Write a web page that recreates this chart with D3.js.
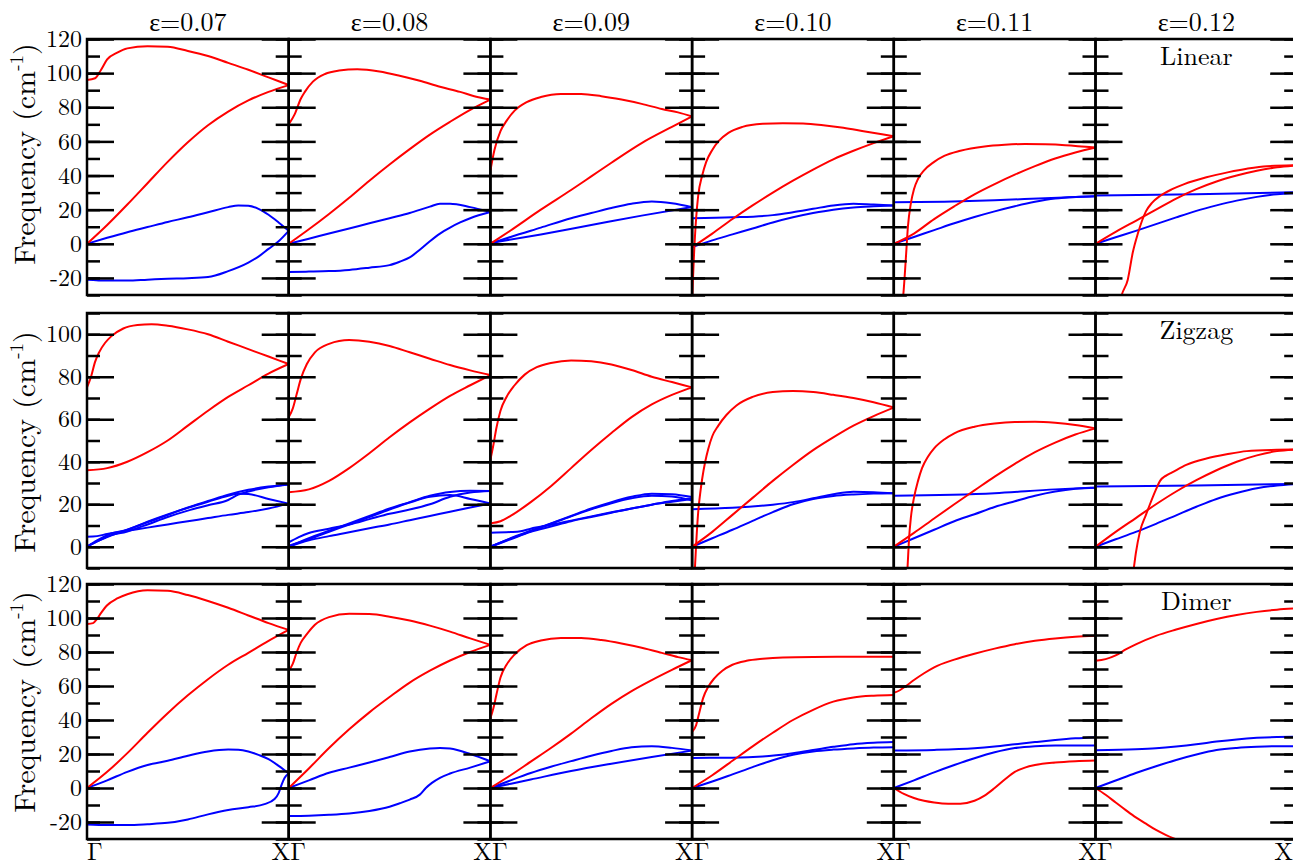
<!DOCTYPE html>
<html>
<head>
<meta charset="utf-8">
<script src="https://cdn.jsdelivr.net/npm/d3@7"></script>
<style>
body { margin: 0; background: #fff; }
</style>
</head>
<body>
<script>
// strain columns and chain rows
var strains = ["ε=0.07", "ε=0.08", "ε=0.09", "ε=0.10", "ε=0.11", "ε=0.12"];
var chains = ["Linear", "Zigzag", "Dimer"];
var yDomains = [[-30, 120], [-10, 110], [-30, 120]];
var qLabels = ["Γ", "XΓ", "XΓ", "XΓ", "XΓ", "XΓ", "X"];

// phonon branches, [q (Γ=0 .. X=1), frequency cm-1], one list per strain
var linearRed = [
  [[[0,96],[0.04,97],[0.07,102],[0.1,108],[0.15,112],[0.2,114.5],[0.3,115.8],[0.4,115.5],[0.5,113],[0.6,110],[0.7,106],[0.8,102],[0.9,97.5],[1,93]],
   [[0,0],[0.1,11],[0.2,23],[0.3,35.5],[0.4,48],[0.5,59.5],[0.6,69.5],[0.7,77.5],[0.8,84],[0.9,89],[1,93]]],
  [[[0,70],[0.03,76],[0.06,85],[0.08,89],[0.12,95],[0.18,99.5],[0.25,101.5],[0.34,102.3],[0.45,101],[0.55,98.5],[0.65,95.5],[0.75,92],[0.85,89],[0.92,86.5],[1,84.5]],
   [[0,0],[0.1,8.5],[0.2,17.5],[0.3,27],[0.4,37],[0.5,46.5],[0.6,55.5],[0.7,64],[0.8,71.5],[0.9,78.5],[1,84.5]]],
  [[[0,43],[0.02,55],[0.05,66],[0.08,72],[0.12,78],[0.18,83],[0.25,86],[0.35,87.8],[0.45,87.8],[0.55,86.5],[0.65,84.5],[0.75,82],[0.85,79],[0.93,77],[1,74.6]],
   [[0,0],[0.1,7.8],[0.25,20],[0.4,31.5],[0.5,39.5],[0.6,47.5],[0.75,59],[0.9,68.5],[1,74.6]]],
  [[[0,-32],[0.01,-5],[0.02,15],[0.03,28],[0.05,40],[0.07,48],[0.1,55],[0.13,60],[0.18,65],[0.25,68.5],[0.35,70.3],[0.45,70.7],[0.55,70.5],[0.65,69.5],[0.75,68],[0.85,66],[1,63]],
   [[0,-2],[0.1,6],[0.2,14.5],[0.3,22.5],[0.4,30],[0.5,37],[0.6,43.5],[0.7,49.5],[0.8,54.5],[0.9,59],[1,63]]],
  [[[0.035,-40],[0.047,-30],[0.06,-8],[0.07,10],[0.085,24],[0.1,32],[0.12,38],[0.15,43],[0.2,48],[0.25,51.5],[0.33,54.5],[0.45,57],[0.55,58],[0.65,58.5],[0.75,58.3],[0.85,57.8],[1,56.4]],
   [[0,0],[0.1,6],[0.2,14.5],[0.3,22],[0.4,29],[0.5,35],[0.6,40.5],[0.7,45.5],[0.8,50],[0.9,53.5],[1,56.4]]],
  [[[0.11,-40],[0.13,-30],[0.16,-21],[0.185,-5],[0.21,6],[0.25,19],[0.28,24],[0.32,28],[0.38,32],[0.44,35],[0.55,39],[0.66,42],[0.75,44],[0.85,45.5],[1,46]],
   [[0,0],[0.1,7],[0.2,13.5],[0.3,20],[0.4,26.5],[0.5,32],[0.6,36.5],[0.7,40],[0.8,42.8],[0.9,44.8],[1,46]]]
];
var linearBlue = [
  [[[0,0],[0.1,3.5],[0.2,6.8],[0.3,9.8],[0.4,12.8],[0.5,15.5],[0.6,18.5],[0.7,21.5],[0.75,22.5],[0.8,22.3],[0.85,20.5],[0.9,17],[0.95,12.5],[1,7.6]],
   [[0,-21],[0.1,-21.5],[0.2,-21.5],[0.3,-21],[0.4,-20.5],[0.5,-20.2],[0.6,-19.5],[0.7,-16],[0.8,-11],[0.85,-7.5],[0.9,-3],[0.95,1.5],[1,7.6]]],
  [[[0,0],[0.1,3],[0.2,6],[0.3,9],[0.4,12],[0.5,15],[0.6,18],[0.7,21.8],[0.75,23.5],[0.8,23.5],[0.9,21.5],[1,18.6]],
   [[0,-16.5],[0.1,-16.3],[0.2,-16],[0.3,-15.3],[0.4,-14],[0.5,-12.5],[0.55,-10.5],[0.6,-8],[0.65,-3.5],[0.7,1.5],[0.75,6],[0.8,9.5],[0.85,12.5],[0.9,15],[1,18.6]]],
  [[[0,0],[0.1,4],[0.25,9.5],[0.4,15],[0.5,18],[0.6,21],[0.7,23.5],[0.8,24.8],[0.9,23.8],[1,21.5]],
   [[0,0.5],[0.25,5.5],[0.5,11],[0.75,16.5],[1,21.5]]],
  [[[0,15],[0.2,15.5],[0.4,16.8],[0.5,18.5],[0.6,20.5],[0.7,22.5],[0.8,23.5],[0.9,23],[1,22.5]],
   [[0,-2],[0.1,2],[0.2,5.5],[0.3,9],[0.4,12.5],[0.5,15.5],[0.6,18],[0.7,20],[0.8,21.3],[0.9,22],[1,22.5]]],
  [[[0,24.3],[0.25,24.7],[0.5,25.5],[0.75,26.7],[1,27.8]],
   [[0,0],[0.1,4],[0.2,8],[0.3,12],[0.4,15.7],[0.5,19],[0.6,22],[0.7,24.6],[0.8,26.5],[0.9,27.4],[1,27.8]]],
  [[[0,28.3],[0.5,29],[1,30.2]],
   [[0,0],[0.1,3.8],[0.2,7.6],[0.3,11.5],[0.4,15.5],[0.5,19.3],[0.6,22.5],[0.7,25.3],[0.8,27.5],[0.9,29],[1,29.8]]]
];

var zigzagRed = [
  [[[0,75],[0.02,80],[0.04,87],[0.06,91.5],[0.09,96],[0.12,99],[0.18,102.7],[0.25,104.3],[0.32,104.7],[0.4,104],[0.5,102.3],[0.6,100],[0.7,96.5],[0.8,93],[0.9,89.5],[1,86]],
   [[0,36],[0.1,37],[0.2,40],[0.3,44.5],[0.4,50],[0.5,57],[0.6,64],[0.7,70.5],[0.8,76],[0.9,81.5],[1,86]]],
  [[[0,61],[0.02,65],[0.04,72],[0.06,79],[0.09,86],[0.13,91.5],[0.2,95.5],[0.3,97.3],[0.4,96.5],[0.5,94.5],[0.6,91.5],[0.7,88.5],[0.8,85.5],[0.9,83],[1,80.8]],
   [[0,25.7],[0.1,27],[0.2,31],[0.3,37],[0.4,44],[0.5,51.5],[0.6,58.5],[0.7,65],[0.8,71],[0.9,76],[1,80.8]]],
  [[[0,41],[0.015,48],[0.03,56],[0.05,64],[0.08,70.5],[0.12,76],[0.17,81],[0.23,84.5],[0.3,86.5],[0.4,87.7],[0.5,87.3],[0.6,85.8],[0.7,83.2],[0.8,80],[0.9,77.5],[1,75]],
   [[0,11],[0.05,12],[0.1,14.5],[0.2,21],[0.3,28.5],[0.4,37],[0.5,45.5],[0.6,53.5],[0.7,61],[0.8,67],[0.9,71.5],[1,75]]],
  [[[0.005,-20],[0.014,-10],[0.02,1],[0.03,16],[0.04,25],[0.05,32],[0.065,40],[0.08,46],[0.1,52],[0.13,57],[0.17,62],[0.22,66.5],[0.3,70.5],[0.4,72.8],[0.5,73.3],[0.6,72.8],[0.7,71.5],[0.8,70],[0.9,68],[1,65.5]],
   [[0,0],[0.1,7],[0.2,15],[0.3,23],[0.4,31],[0.5,38.5],[0.6,45.5],[0.7,51.5],[0.8,57],[0.9,61.5],[1,65.5]]],
  [[[0.06,-20],[0.068,-10],[0.075,3],[0.085,14],[0.1,23],[0.12,31],[0.14,37],[0.17,42.5],[0.2,46.3],[0.25,50.5],[0.3,53.4],[0.4,56.5],[0.5,58],[0.6,58.7],[0.7,58.8],[0.8,58.3],[0.9,57.3],[1,55.7]],
   [[0,0],[0.1,6.5],[0.2,13.3],[0.3,20],[0.4,26.5],[0.5,33],[0.6,39],[0.7,44.5],[0.8,49],[0.9,52.8],[1,55.7]]],
  [[[0.175,-20],[0.19,-10],[0.2,-3],[0.22,7],[0.25,15],[0.27,20],[0.3,27],[0.32,31],[0.35,33.5],[0.38,35],[0.45,38.5],[0.55,41.5],[0.65,43.5],[0.75,45],[0.9,45.6],[1,45.8]],
   [[0,0],[0.1,7],[0.2,13.5],[0.3,20],[0.4,26],[0.5,31.3],[0.6,36],[0.7,40],[0.8,43],[0.9,45],[1,45.8]]]
];
var zigzagBlue = [
  [[[0,0],[0.05,2.5],[0.1,4.5],[0.2,8],[0.3,11.5],[0.4,15],[0.5,18.5],[0.6,21.5],[0.7,24.5],[0.8,26.8],[0.9,28.3],[1,29.3]],
   [[0,0],[0.05,2.5],[0.1,4.8],[0.2,7.2],[0.3,10.5],[0.4,14],[0.5,17],[0.6,19.5],[0.7,22],[0.75,24.5],[0.8,26],[0.9,28],[1,29.3]],
   [[0,0],[0.05,3],[0.1,5.5],[0.2,8],[0.3,11.8],[0.4,15.2],[0.5,18.3],[0.6,21.2],[0.7,24],[0.75,25],[0.8,24.8],[0.9,22.5],[1,20.3]],
   [[0,4.7],[0.05,5],[0.1,6],[0.2,7.5],[0.3,9],[0.4,10.5],[0.5,12],[0.6,13.5],[0.7,15],[0.8,16.3],[0.9,18],[1,20.3]]],
  [[[0,0],[0.1,4],[0.2,7.5],[0.3,11],[0.4,14.5],[0.5,18],[0.6,21],[0.7,24],[0.8,25.8],[0.9,26.3],[1,26.2]],
   [[0,2],[0.05,4.5],[0.1,6.5],[0.2,8.5],[0.3,10.5],[0.4,13],[0.5,15.5],[0.6,17.5],[0.7,20],[0.8,23.5],[0.9,25.5],[1,26.2]],
   [[0,0.5],[0.1,3.5],[0.2,7],[0.3,10.5],[0.4,14],[0.5,17.5],[0.6,20.8],[0.7,23.5],[0.8,24.3],[0.9,22.5],[1,20.4]],
   [[0,0],[0.1,3],[0.2,5],[0.3,6.8],[0.4,8.7],[0.5,10.5],[0.6,12.5],[0.7,14.5],[0.8,16.5],[0.9,18.5],[1,20.4]]],
  [[[0,0],[0.1,4],[0.2,7.5],[0.3,11],[0.4,14.5],[0.5,18],[0.6,21],[0.7,23.5],[0.8,25],[0.9,24.7],[1,23.4]],
   [[0,6.6],[0.1,6.9],[0.15,7.3],[0.2,8.5],[0.3,10.3],[0.4,12.3],[0.5,14.3],[0.6,16.2],[0.7,18],[0.8,19.8],[0.9,21.2],[1,22.5]],
   [[0,0],[0.1,3.5],[0.2,7],[0.3,9.5],[0.4,12],[0.5,14],[0.6,16],[0.7,18],[0.8,19.8],[0.9,21.5],[1,22.8]],
   [[0,0],[0.1,3.8],[0.2,7.3],[0.3,10.8],[0.4,14.3],[0.5,17.6],[0.6,20.5],[0.7,22.8],[0.8,24],[0.9,23.6],[1,21.8]]],
  [[[0,17.7],[0.2,18.3],[0.4,19.8],[0.5,21],[0.6,22.8],[0.7,24.7],[0.8,25.9],[0.9,25.7],[1,25.2]],
   [[0,0],[0.1,4],[0.2,8],[0.3,12.2],[0.4,16.3],[0.5,20],[0.6,22.5],[0.7,23.9],[0.8,24.6],[0.9,25],[1,25.2]]],
  [[[0,24],[0.5,25.2],[0.8,27],[1,27.8]],
   [[0,0],[0.1,4],[0.2,8],[0.3,12],[0.4,15.3],[0.5,18.7],[0.6,21.4],[0.7,24],[0.8,26],[0.9,27.3],[1,27.8]]],
  [[[0,28.3],[0.5,28.8],[1,29.6]],
   [[0,0],[0.1,3.5],[0.2,7],[0.3,10.8],[0.4,14.8],[0.5,18.8],[0.6,22.5],[0.7,25.3],[0.8,27.5],[0.9,28.8],[1,29.5]]]
];

var dimerRed = [
  [[[0,96.5],[0.03,97],[0.05,99.5],[0.07,103],[0.1,107.5],[0.15,111.5],[0.2,114],[0.3,116.3],[0.4,116],[0.5,113.5],[0.6,110],[0.7,106],[0.8,101.5],[0.9,97],[1,93]],
   [[0,0],[0.1,9.5],[0.2,20.5],[0.3,32.5],[0.4,44],[0.5,54.5],[0.6,64],[0.7,72.5],[0.8,79.5],[0.9,86.5],[1,93]]],
  [[[0,69],[0.02,73],[0.04,80],[0.06,85.5],[0.09,90.5],[0.13,96],[0.2,100.5],[0.3,102.5],[0.4,102.3],[0.5,100.8],[0.6,98.5],[0.7,95.5],[0.8,92],[0.9,88],[1,84.2]],
   [[0,0],[0.1,11.5],[0.2,23.5],[0.3,34.5],[0.4,44.5],[0.5,53.5],[0.6,62],[0.7,69],[0.8,75],[0.9,80],[1,84.2]]],
  [[[0,41],[0.015,47],[0.03,55],[0.05,65],[0.08,72.5],[0.12,78.5],[0.18,84],[0.25,86.8],[0.35,88.3],[0.45,88.2],[0.55,87],[0.65,85],[0.75,82.5],[0.85,79.5],[0.93,77],[1,75.2]],
   [[0,0],[0.1,7.5],[0.2,15.5],[0.3,23.5],[0.4,32],[0.5,41],[0.6,49.5],[0.7,57],[0.8,63.5],[0.9,69.5],[1,75.2]]],
  [[[0,33],[0.02,37],[0.035,44],[0.055,53],[0.08,59.5],[0.11,64.5],[0.15,69],[0.2,72.5],[0.27,74.8],[0.35,76],[0.45,76.8],[0.6,77.1],[0.8,77.2],[1,77.2]],
   [[0,0],[0.1,7.5],[0.2,16],[0.3,24.5],[0.4,32.5],[0.5,40],[0.6,46],[0.7,50.8],[0.8,53.3],[0.9,54.3],[1,54.7]]],
  [[[0,56],[0.03,57.5],[0.06,60],[0.1,63.5],[0.15,67.5],[0.2,71],[0.3,75.5],[0.4,79],[0.5,82],[0.6,84.6],[0.7,86.6],[0.8,88],[0.9,89],[1,89.5]],
   [[0,0],[0.05,-3.5],[0.1,-5.9],[0.15,-7.5],[0.2,-8.5],[0.27,-9.2],[0.33,-9.2],[0.4,-7.5],[0.45,-4.5],[0.5,0],[0.55,5],[0.6,9.5],[0.65,12],[0.7,13.5],[0.8,15],[0.9,15.8],[1,16.2]]],
  [[[0,74.8],[0.05,75.8],[0.1,78],[0.15,81.5],[0.2,84.5],[0.3,89.5],[0.4,93.2],[0.5,96.5],[0.6,99.4],[0.7,101.8],[0.8,103.6],[0.9,104.9],[1,105.7]],
   [[0,0],[0.05,-4],[0.1,-8.5],[0.15,-13],[0.2,-17.3],[0.25,-21],[0.3,-24.7],[0.35,-27.7],[0.4,-30.2],[0.45,-32.5]]]
];
var dimerBlue = [
  [[[0,0],[0.1,4.5],[0.2,9.5],[0.3,13.5],[0.4,16],[0.5,19],[0.6,21.5],[0.7,22.6],[0.75,22.5],[0.8,21.5],[0.85,19.5],[0.9,17],[0.95,13],[1,8.5]],
   [[0,-21.5],[0.1,-21.8],[0.2,-21.8],[0.3,-21.3],[0.4,-20.5],[0.5,-18.5],[0.6,-15.5],[0.7,-13],[0.8,-11.3],[0.88,-9.5],[0.93,-6.5],[0.95,-3],[0.965,2],[0.98,6],[1,8.5]]],
  [[[0,0],[0.1,4.5],[0.2,9],[0.3,12],[0.4,15],[0.5,18.2],[0.6,21.5],[0.7,23.3],[0.75,23.6],[0.8,23.2],[0.9,20],[1,15.7]],
   [[0,-16.5],[0.1,-16.3],[0.2,-15.8],[0.3,-15],[0.4,-13.5],[0.5,-11],[0.55,-9],[0.6,-6.8],[0.65,-3.9],[0.68,0],[0.71,3],[0.75,6],[0.8,8.5],[0.9,12],[1,15.7]]],
  [[[0,0],[0.1,4.5],[0.2,8.8],[0.3,12.5],[0.4,15.8],[0.5,19],[0.6,21.8],[0.7,24],[0.8,24.6],[0.9,23.6],[1,22]],
   [[0,0],[0.2,5],[0.4,10],[0.6,14.3],[0.8,18.3],[1,22]]],
  [[[0,17.7],[0.2,17.8],[0.35,18.5],[0.5,20.5],[0.6,22.3],[0.7,24.2],[0.8,25.8],[0.9,26.6],[1,27]],
   [[0,0],[0.1,3.8],[0.2,8],[0.3,12.3],[0.4,16.3],[0.5,19.5],[0.6,21.5],[0.7,22.6],[0.8,23.3],[0.9,23.8],[1,24]]],
  [[[0,22],[0.2,22.4],[0.4,23.4],[0.5,24.4],[0.6,25.7],[0.7,27],[0.8,28.2],[0.9,29.2],[1,29.9]],
   [[0,0],[0.1,4.5],[0.2,9.2],[0.3,13.5],[0.4,17.5],[0.5,21],[0.6,23.5],[0.7,24.6],[0.8,25],[1,25]]],
  [[[0,22.2],[0.2,22.8],[0.3,23.4],[0.4,24.4],[0.5,25.7],[0.6,27.3],[0.7,28.6],[0.8,29.5],[0.9,30],[1,30.1]],
   [[0,0],[0.1,4.4],[0.2,8.8],[0.3,12.8],[0.4,16.5],[0.5,19.7],[0.6,22.3],[0.7,23.6],[0.8,24.3],[0.9,24.6],[1,24.6]]]
];

var branches = [[linearRed, linearBlue], [zigzagRed, zigzagBlue], [dimerRed, dimerBlue]];

var width = 1293, height = 866;
var left = 87, panelW = 201.7;
var rowBox = [[39, 295], [313, 568], [584, 839]];
var yLabelMid = [154, 442, 702];
var font = "'Latin Modern Roman', 'Liberation Serif', serif";

var svg = d3.select("body")
            .append("svg")
            .attr("width", width)
            .attr("height", height);

var defs = svg.append("defs");

rowBox.forEach(function(box, r) {
    var y = d3.scaleLinear().domain(yDomains[r]).range([box[1], box[0]]);
    var minor = d3.range(yDomains[r][0], yDomains[r][1] + 1, 10);
    var major = minor.filter(function(v) { return v % 20 === 0; });

    strains.forEach(function(s, c) {
        var x = d3.scaleLinear().domain([0, 1]).range([left + c * panelW, left + (c + 1) * panelW]);
        var id = "clip" + r + "_" + c;
        defs.append("clipPath").attr("id", id)
            .append("rect")
            .attr("x", x(0)).attr("y", box[0])
            .attr("width", panelW).attr("height", box[1] - box[0]);

        var line = d3.line()
                     .x(function(d) { return x(d[0]); })
                     .y(function(d) { return y(d[1]); })
                     .curve(d3.curveMonotoneX);

        var g = svg.append("g");
        var curves = g.append("g").attr("clip-path", "url(#" + id + ")");
        curves.selectAll("path.blue")
              .data(branches[r][1][c])
              .enter().append("path")
              .attr("class", "blue")
              .attr("d", line)
              .attr("fill", "none")
              .attr("stroke", "#0000ff")
              .attr("stroke-width", 2);
        curves.selectAll("path.red")
              .data(branches[r][0][c])
              .enter().append("path")
              .attr("class", "red")
              .attr("d", line)
              .attr("fill", "none")
              .attr("stroke", "#ff0000")
              .attr("stroke-width", 2);

        // inward ticks on both sides of every panel
        [[minor, 13], [major, 27]].forEach(function(t) {
            g.append("g")
             .attr("transform", "translate(" + x(0) + ",0)")
             .call(d3.axisRight(y).tickValues(t[0]).tickSize(t[1]).tickFormat(""));
            g.append("g")
             .attr("transform", "translate(" + x(1) + ",0)")
             .call(d3.axisLeft(y).tickValues(t[0]).tickSize(t[1]).tickFormat(""));
        });

        g.append("rect")
         .attr("x", x(0)).attr("y", box[0])
         .attr("width", panelW).attr("height", box[1] - box[0])
         .attr("fill", "none")
         .attr("stroke", "#000")
         .attr("stroke-width", 2.5);

        if (r === 0) {
            svg.append("text")
               .attr("x", x(0.5)).attr("y", 31)
               .attr("text-anchor", "middle")
               .style("font-family", font).style("font-size", "26px")
               .text(s);
        }
        if (c === strains.length - 1) {
            svg.append("text")
               .attr("x", x(0.5)).attr("y", box[0] + 26)
               .attr("text-anchor", "middle")
               .style("font-family", font).style("font-size", "26px")
               .text(chains[r]);
        }
    });

    // tick labels on the far left
    var lab = svg.append("g")
                 .attr("transform", "translate(" + left + ",0)")
                 .call(d3.axisLeft(y).tickValues(major).tickSize(0).tickPadding(5)
                         .tickFormat(function(d) { return String(d); }));
    lab.selectAll("text").style("font-family", font).style("font-size", "24px");
    lab.select(".domain").remove();

    var yl = svg.append("text")
                .attr("transform", "translate(35," + yLabelMid[r] + ") rotate(-90)")
                .attr("text-anchor", "middle")
                .style("font-family", font).style("font-size", "30px");
    yl.append("tspan").text("Frequency (cm");
    yl.append("tspan").style("font-size", "19px").attr("dy", -12).text("-1");
    yl.append("tspan").attr("dy", 12).text(")");
});

svg.selectAll(".domain").remove();
svg.selectAll(".tick line").attr("stroke", "#000").attr("stroke-width", 2.5);

// Γ / X labels under the bottom row
svg.selectAll("text.q")
   .data(qLabels)
   .enter().append("text")
   .attr("class", "q")
   .attr("x", function(d, i) { return i === qLabels.length - 1 ? width : left + i * panelW; })
   .attr("y", 860)
   .attr("text-anchor", function(d, i) { return i === 0 ? "start" : (i === qLabels.length - 1 ? "end" : "middle"); })
   .style("font-family", font).style("font-size", "25px")
   .text(function(d) { return d; });
</script>
</body>
</html>
